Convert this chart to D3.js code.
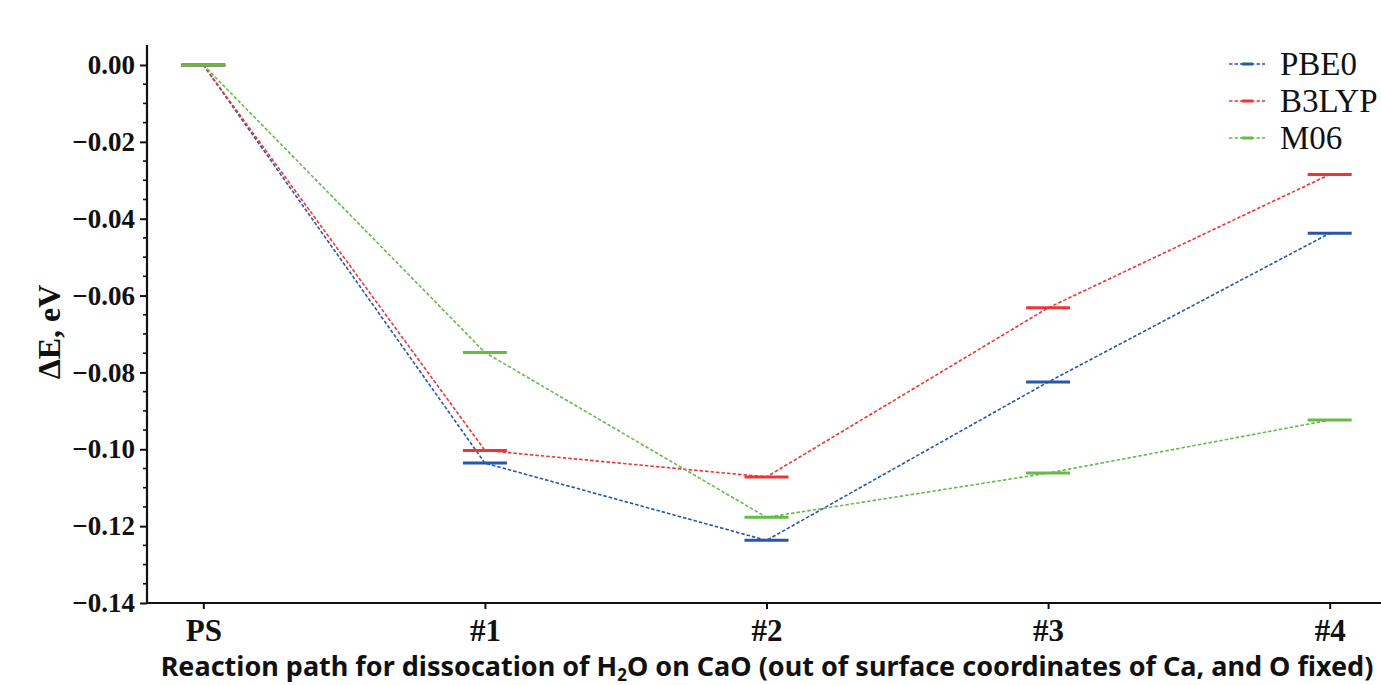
<!DOCTYPE html>
<html>
<head>
<meta charset="utf-8">
<script src="https://cdn.jsdelivr.net/npm/d3@7"></script>
<style>
body { margin: 0; background: #fff; }
svg { display: block; }
</style>
</head>
<body>
<svg id="svg" width="1381" height="685"></svg>
<script>
// data
var steps = ["PS", "#1", "#2", "#3", "#4"];
var methods = ["PBE0", "B3LYP", "M06"];
var pbe0 = [0, -0.1036, -0.1237, -0.0825, -0.0438];
var b3lyp = [0, -0.1003, -0.1072, -0.0632, -0.0285];
var m06 = [0, -0.0748, -0.1177, -0.1062, -0.0924];
var yTicks = [0, -0.02, -0.04, -0.06, -0.08, -0.10, -0.12, -0.14];
var colors = ["#2657a8", "#ee3434", "#66bb48"];

function draw() {
	var series = [pbe0, b3lyp, m06];
	var svg = d3.select("#svg");

	var scaleX = d3.scaleLinear().domain([-0.2, 4.2]).range([147, 1386]);
	var scaleY = d3.scaleLinear().domain([-0.14, 0.0052]).range([603, 45]);

	// dashed connecting lines
	var line = d3.line()
		.x(function(d, i) { return scaleX(i); })
		.y(function(d) { return scaleY(d); });

	series.forEach(function(s, k) {
		svg.append("path")
			.attr("d", line(s))
			.attr("fill", "none")
			.attr("stroke", colors[k])
			.attr("stroke-width", 1.6)
			.attr("stroke-dasharray", "3.5,2");
	});

	// level markers
	series.forEach(function(s, k) {
		svg.selectAll(".lvl" + k)
			.data(s)
			.enter()
			.append("line")
			.attr("x1", function(d, i) { return scaleX(i) - 22; })
			.attr("x2", function(d, i) { return scaleX(i) + 22; })
			.attr("y1", function(d) { return scaleY(d); })
			.attr("y2", function(d) { return scaleY(d); })
			.attr("stroke", colors[k])
			.attr("stroke-width", 3);
	});

	// Y axis
	var axisY = d3.axisLeft(scaleY)
		.tickValues(yTicks)
		.tickSize(7)
		.tickPadding(5)
		.tickFormat(function(d) { return d3.format(".2f")(d).replace("-", "\u2212"); });
	var gAxisY = svg.append("g").attr("transform", "translate(147,0)").call(axisY);
	gAxisY.select(".domain").remove();
	gAxisY.attr("font-family", "Liberation Serif").attr("font-size", 27).attr("font-weight", "bold");
	gAxisY.selectAll("text").attr("fill", "#111");
	gAxisY.selectAll("line").attr("stroke-width", 2).attr("stroke", "#111");

	var minor = d3.range(-0.135, 0.004, 0.005).filter(function(v) {
		return Math.abs(Math.round(v / 0.02) * 0.02 - v) > 1e-6;
	});
	svg.append("g").selectAll("line")
		.data(minor)
		.enter()
		.append("line")
		.attr("x1", 143).attr("x2", 147)
		.attr("y1", function(d) { return scaleY(d); })
		.attr("y2", function(d) { return scaleY(d); })
		.attr("stroke", "#111")
		.attr("stroke-width", 1.6);

	// X axis
	var axisX = d3.axisBottom(scaleX)
		.tickValues(d3.range(steps.length))
		.tickSize(6)
		.tickPadding(10)
		.tickFormat(function(d) { return steps[d]; });
	var gAxisX = svg.append("g").attr("transform", "translate(0,603)").call(axisX);
	gAxisX.select(".domain").remove();
	gAxisX.attr("font-family", "Liberation Serif").attr("font-size", 31).attr("font-weight", "bold");
	gAxisX.selectAll("text").attr("fill", "#111");
	gAxisX.selectAll("line").attr("stroke-width", 2).attr("stroke", "#111");

	// spines
	svg.append("line").attr("x1", 147).attr("x2", 147).attr("y1", 45).attr("y2", 604)
		.attr("stroke", "#111").attr("stroke-width", 2.2);
	svg.append("line").attr("x1", 146).attr("x2", 1381).attr("y1", 603).attr("y2", 603)
		.attr("stroke", "#111").attr("stroke-width", 2.2);

	// axis labels
	svg.append("text")
		.attr("transform", "translate(60,332) rotate(-90)")
		.attr("text-anchor", "middle")
		.attr("font-family", "Liberation Serif")
		.attr("font-weight", "bold")
		.attr("font-size", 32)
		.attr("fill", "#111")
		.text("\u0394E, eV");

	var xl = svg.append("text")
		.attr("x", 767)
		.attr("y", 676)
		.attr("text-anchor", "middle")
		.attr("font-family", "Noto Sans")
		.attr("font-weight", "bold")
		.attr("font-size", 27)
		.attr("fill", "#111");
	xl.append("tspan").text("Reaction path for dissocation of H");
	xl.append("tspan").attr("font-size", 17).attr("dy", 5).text("2");
	xl.append("tspan").attr("dy", -5).text("O on CaO (out of surface coordinates of Ca, and O fixed)");

	// legend
	var legend = svg.append("g");
	methods.forEach(function(m, k) {
		var y = 64 + k * 37;
		legend.append("line")
			.attr("x1", 1229).attr("x2", 1265).attr("y1", y).attr("y2", y)
			.attr("stroke", colors[k]).attr("stroke-width", 1.6)
			.attr("stroke-dasharray", "3.5,2");
		legend.append("line")
			.attr("x1", 1242).attr("x2", 1253).attr("y1", y).attr("y2", y)
			.attr("stroke", colors[k]).attr("stroke-width", 3);
		legend.append("text")
			.attr("x", 1280).attr("y", y + 11)
			.attr("font-family", "Liberation Serif")
			.attr("font-size", 33)
			.attr("fill", "#111")
			.text(m);
	});
}
draw();
</script>
</body>
</html>
